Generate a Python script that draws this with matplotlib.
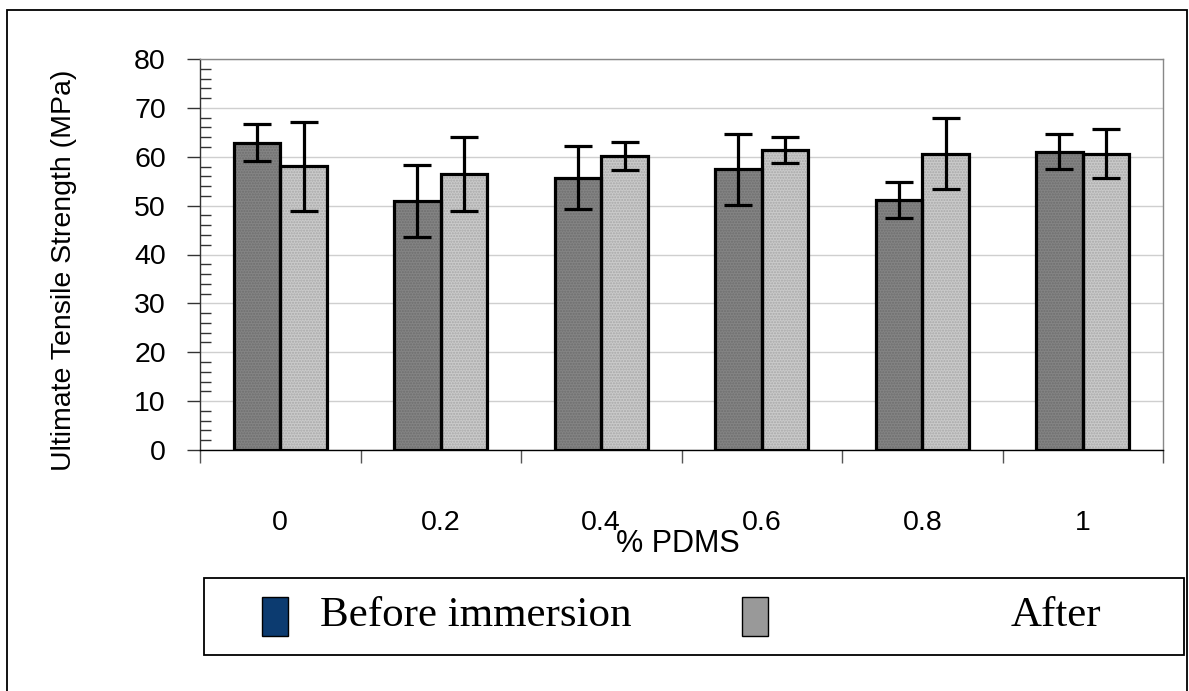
import matplotlib
matplotlib.use("Agg")
import matplotlib.pyplot as plt
from matplotlib.patches import Rectangle
import numpy as np

# PDMS content categories and tensile results
categories = ["0", "0.2", "0.4", "0.6", "0.8", "1"]
before_mean = [62.9, 50.9, 55.7, 57.4, 51.2, 61.0]
before_err = [3.8, 7.4, 6.4, 7.2, 3.7, 3.6]
after_mean = [58.1, 56.5, 60.2, 61.4, 60.6, 60.6]
after_err = [9.1, 7.6, 2.9, 2.6, 7.3, 5.0]
series_names = ["Before immersion", "After"]
y_ticks = [0, 10, 20, 30, 40, 50, 60, 70, 80]

W, H = 1189, 691
fig = plt.figure(figsize=(W / 100, H / 100), dpi=100)
fig.patch.set_facecolor("white")

# outer chart frame (runs past the bottom edge)
fig.patches.append(Rectangle((7 / W, -0.05), (1187 - 7) / W, 1.05 - 10 / H,
                             transform=fig.transFigure, fill=False,
                             edgecolor="black", linewidth=1.3))

ax = fig.add_axes([200 / W, 1 - 450 / H, (1163 - 200) / W, (450 - 59) / H])
ax.set_xlim(-0.5, len(categories) - 0.5)
ax.set_ylim(0, 80)

x = np.arange(len(categories))
bw = 0.29

# textured fills, then black outlines on top
ax.bar(x - bw / 2, before_mean, bw, color="#848484", edgecolor="#6e6e6e",
       hatch="......", linewidth=0, zorder=2)
ax.bar(x + bw / 2, after_mean, bw, color="#cacaca", edgecolor="#a8a8a8",
       hatch="......", linewidth=0, zorder=2)
ax.bar(x - bw / 2, before_mean, bw, fill=False, edgecolor="black",
       linewidth=2.3, zorder=3)
ax.bar(x + bw / 2, after_mean, bw, fill=False, edgecolor="black",
       linewidth=2.3, zorder=3)

ekw = dict(fmt="none", ecolor="black", elinewidth=2.3, capsize=10,
           capthick=2.3, zorder=4)
ax.errorbar(x - bw / 2, before_mean, yerr=before_err, **ekw)
ax.errorbar(x + bw / 2, after_mean, yerr=after_err, **ekw)

# grid and spines
ax.set_yticks(y_ticks)
ax.yaxis.grid(True, color="#cfcfcf", linewidth=1.0, zorder=0)
ax.set_axisbelow(True)
for side in ("top", "right"):
    ax.spines[side].set_color("#888888")
    ax.spines[side].set_linewidth(1.0)
ax.spines["left"].set_color("#333333")
ax.spines["left"].set_linewidth(1.0)
ax.spines["bottom"].set_color("black")
ax.spines["bottom"].set_linewidth(1.0)

# y ticks: major outward, minor inward
ax.set_yticks(np.arange(0, 81, 2), minor=True)
ax.tick_params(axis="y", which="major", direction="out", length=9.5,
               width=1.0, color="#333333", pad=15, labelsize=20.5)
ax.tick_params(axis="y", which="minor", direction="in", length=8,
               width=1.0, color="#333333")
ax.set_yticklabels([str(v) for v in y_ticks], fontfamily="Liberation Sans")

# x ticks: labels at centers, marks at category boundaries
ax.set_xticks(x)
ax.set_xticklabels(categories, fontfamily="Liberation Sans")
ax.set_xticks(np.arange(-0.5, len(categories), 1.0), minor=True)
ax.tick_params(axis="x", which="major", length=0, pad=43, labelsize=20.5)
ax.tick_params(axis="x", which="minor", direction="out", length=9,
               width=1.0, color="#555555")

fig.text(678 / W, 1 - 544 / H, "% PDMS", ha="center", va="center",
         fontsize=22, fontfamily="Liberation Sans")
fig.text(64 / W, 1 - 270 / H, "Ultimate Tensile Strength (MPa)",
         rotation=90, ha="center", va="center", fontsize=20.5,
         fontfamily="Liberation Sans")

# legend box
fig.patches.append(Rectangle((204 / W, 1 - 655 / H), (1184 - 204) / W,
                             (655 - 578) / H, transform=fig.transFigure,
                             fill=False, edgecolor="black", linewidth=1.3))
swatches = [("#0c3b70", 262, 320), ("#999999", 742, 1011)]
for (col, sx, tx), name in zip(swatches, series_names):
    fig.patches.append(Rectangle((sx / W, 1 - 636 / H), 26 / W, 39 / H,
                                 transform=fig.transFigure, facecolor=col,
                                 edgecolor="black", linewidth=1.0))
    fig.text(tx / W, 1 - 616 / H, name, ha="left", va="center",
             fontsize=31, fontfamily="Liberation Serif")

fig.savefig("out.png", dpi=100)
